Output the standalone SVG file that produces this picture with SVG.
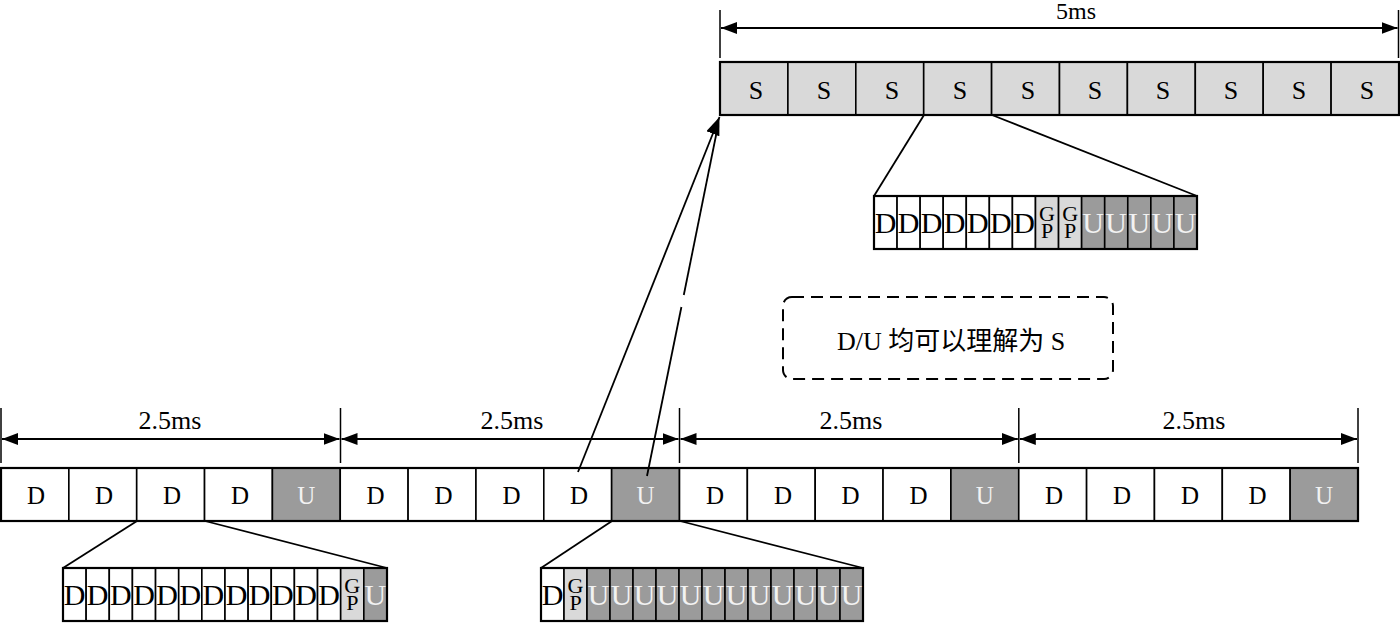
<svg xmlns="http://www.w3.org/2000/svg" width="1400" height="623" viewBox="0 0 1400 623">
<defs>
<style>
.w{fill:#fff;stroke:#000;stroke-width:1.6}
.s{fill:#d9d9d9;stroke:#000;stroke-width:1.6}
.u{fill:#9b9b9b;stroke:#000;stroke-width:1.6}
.frame{fill:none;stroke:#000;stroke-width:2.2}
.t{font-family:"Liberation Serif","Times New Roman",serif;text-anchor:middle;fill:#000}
.big{font-size:25px}
.sbig{font-size:26px}
.sm{font-size:30px}
.gp{font-size:22px}
.wt{fill:#f2f2f2}
.lab{font-size:26px}
.ln{stroke:#000;stroke-width:1.8;fill:none}
.ext{stroke:#000;stroke-width:1.5;fill:none}
</style>
<marker id="ah" viewBox="0 0 16 12" refX="16" refY="6" markerWidth="16" markerHeight="12" markerUnits="userSpaceOnUse" orient="auto-start-reverse">
<path d="M0,0 L16,6 L0,12 z" fill="#000"/>
</marker>
<marker id="bh" viewBox="0 0 18 14" refX="18" refY="7" markerWidth="18" markerHeight="14" markerUnits="userSpaceOnUse" orient="auto">
<path d="M0,0 L18,7 L0,14 z" fill="#000"/>
</marker>
</defs>
<rect width="1400" height="623" fill="#fff"/>

<g id="dim5ms">
<line class="ext" x1="720" y1="10" x2="720" y2="58"/>
<line class="ext" x1="1398.5" y1="10" x2="1398.5" y2="58"/>
<line class="ln" x1="721" y1="28" x2="1397.5" y2="28" marker-start="url(#ah)" marker-end="url(#ah)"/>
<text class="t" x="1076" y="19" font-size="24">5ms</text>
</g>

<g id="frame5ms">
<rect class="s" x="720" y="62" width="67.9" height="53"/>
<rect class="s" x="787.9" y="62" width="67.9" height="53"/>
<rect class="s" x="855.8" y="62" width="67.9" height="53"/>
<rect class="s" x="923.7" y="62" width="67.9" height="53"/>
<rect class="s" x="991.6" y="62" width="67.9" height="53"/>
<rect class="s" x="1059.5" y="62" width="67.9" height="53"/>
<rect class="s" x="1127.4" y="62" width="67.9" height="53"/>
<rect class="s" x="1195.3" y="62" width="67.9" height="53"/>
<rect class="s" x="1263.2" y="62" width="67.9" height="53"/>
<rect class="s" x="1331.1" y="62" width="67.9" height="53"/>
<rect class="frame" x="720" y="62" width="679" height="53"/>
<g class="t sbig">
<text x="756" y="99">S</text><text x="824" y="99">S</text><text x="892" y="99">S</text><text x="960" y="99">S</text><text x="1028" y="99">S</text><text x="1095" y="99">S</text><text x="1163" y="99">S</text><text x="1231" y="99">S</text><text x="1299" y="99">S</text><text x="1367" y="99">S</text>
</g>
</g>

<g id="subframeTop">
<rect class="w" x="874" y="196" width="23.07" height="53"/>
<rect class="w" x="897.07" y="196" width="23.07" height="53"/>
<rect class="w" x="920.14" y="196" width="23.07" height="53"/>
<rect class="w" x="943.21" y="196" width="23.07" height="53"/>
<rect class="w" x="966.28" y="196" width="23.07" height="53"/>
<rect class="w" x="989.35" y="196" width="23.07" height="53"/>
<rect class="w" x="1012.42" y="196" width="23.07" height="53"/>
<rect class="s" x="1035.49" y="196" width="23.07" height="53"/>
<rect class="s" x="1058.56" y="196" width="23.07" height="53"/>
<rect class="u" x="1081.63" y="196" width="23.07" height="53"/>
<rect class="u" x="1104.7" y="196" width="23.07" height="53"/>
<rect class="u" x="1127.77" y="196" width="23.07" height="53"/>
<rect class="u" x="1150.84" y="196" width="23.07" height="53"/>
<rect class="u" x="1173.91" y="196" width="23.09" height="53"/>
<rect class="frame" x="874" y="196" width="323" height="53"/>
<g class="t sm">
<text x="885.5" y="233">D</text><text x="908.6" y="233">D</text><text x="931.7" y="233">D</text><text x="954.7" y="233">D</text><text x="977.8" y="233">D</text><text x="1000.9" y="233">D</text><text x="1024" y="233">D</text>
</g>
<text class="t gp" x="1047" y="221">G<tspan x="1047" y="237.5">P</tspan></text>
<text class="t gp" x="1070.1" y="221">G<tspan x="1070.1" y="237.5">P</tspan></text>
<g class="t sm wt">
<text x="1093.2" y="233">U</text><text x="1116.2" y="233">U</text><text x="1139.3" y="233">U</text><text x="1162.4" y="233">U</text><text x="1185.5" y="233">U</text>
</g>
</g>

<g id="note">
<rect x="783" y="297" width="330" height="82" rx="9" ry="9" fill="none" stroke="#000" stroke-width="2" stroke-dasharray="12 7"/>
<text x="951" y="350" font-family="'Liberation Serif','Noto Sans CJK SC',serif" font-size="26" text-anchor="middle">D/U 均可以理解为 S</text>
</g>

<g id="dim25ms">
<line class="ext" x1="1" y1="408" x2="1" y2="463"/>
<line class="ext" x1="340.5" y1="408" x2="340.5" y2="463"/>
<line class="ext" x1="679.5" y1="408" x2="679.5" y2="463"/>
<line class="ext" x1="1018.8" y1="408" x2="1018.8" y2="463"/>
<line class="ext" x1="1358" y1="408" x2="1358" y2="463"/>
<line class="ln" x1="2" y1="439" x2="339.5" y2="439" marker-start="url(#ah)" marker-end="url(#ah)"/>
<line class="ln" x1="341.5" y1="439" x2="678.5" y2="439" marker-start="url(#ah)" marker-end="url(#ah)"/>
<line class="ln" x1="680.5" y1="439" x2="1017.8" y2="439" marker-start="url(#ah)" marker-end="url(#ah)"/>
<line class="ln" x1="1019.8" y1="439" x2="1357" y2="439" marker-start="url(#ah)" marker-end="url(#ah)"/>
<g class="t lab">
<text x="170" y="429">2.5ms</text><text x="512" y="429">2.5ms</text><text x="851" y="429">2.5ms</text><text x="1194" y="429">2.5ms</text>
</g>
</g>

<g id="frame10ms">
<rect class="w" x="1" y="468" width="67.85" height="53"/>
<rect class="w" x="68.85" y="468" width="67.85" height="53"/>
<rect class="w" x="136.7" y="468" width="67.85" height="53"/>
<rect class="w" x="204.55" y="468" width="67.85" height="53"/>
<rect class="u" x="272.4" y="468" width="67.85" height="53"/>
<rect class="w" x="340.25" y="468" width="67.85" height="53"/>
<rect class="w" x="408.1" y="468" width="67.85" height="53"/>
<rect class="w" x="475.95" y="468" width="67.85" height="53"/>
<rect class="w" x="543.8" y="468" width="67.85" height="53"/>
<rect class="u" x="611.65" y="468" width="67.85" height="53"/>
<rect class="w" x="679.5" y="468" width="67.85" height="53"/>
<rect class="w" x="747.35" y="468" width="67.85" height="53"/>
<rect class="w" x="815.2" y="468" width="67.85" height="53"/>
<rect class="w" x="883.05" y="468" width="67.85" height="53"/>
<rect class="u" x="950.9" y="468" width="67.85" height="53"/>
<rect class="w" x="1018.75" y="468" width="67.85" height="53"/>
<rect class="w" x="1086.6" y="468" width="67.85" height="53"/>
<rect class="w" x="1154.45" y="468" width="67.85" height="53"/>
<rect class="w" x="1222.3" y="468" width="67.85" height="53"/>
<rect class="u" x="1290.15" y="468" width="67.85" height="53"/>
<rect class="frame" x="1" y="468" width="1357" height="53"/>
<g class="t big">
<text x="36" y="504">D</text><text x="104" y="504">D</text><text x="172" y="504">D</text><text x="240" y="504">D</text>
<text x="375.5" y="504">D</text><text x="443.5" y="504">D</text><text x="511.5" y="504">D</text><text x="579" y="504">D</text>
<text x="715" y="504">D</text><text x="783" y="504">D</text><text x="850.5" y="504">D</text><text x="918.5" y="504">D</text>
<text x="1054" y="504">D</text><text x="1122" y="504">D</text><text x="1190" y="504">D</text><text x="1257.5" y="504">D</text>
</g>
<g class="t big wt">
<text x="306.3" y="504">U</text><text x="645.6" y="504">U</text><text x="984.8" y="504">U</text><text x="1324.1" y="504">U</text>
</g>
</g>

<g id="subframeLeft">
<rect class="w" x="63" y="568" width="23.14" height="53"/>
<rect class="w" x="86.14" y="568" width="23.14" height="53"/>
<rect class="w" x="109.28" y="568" width="23.14" height="53"/>
<rect class="w" x="132.42" y="568" width="23.14" height="53"/>
<rect class="w" x="155.56" y="568" width="23.14" height="53"/>
<rect class="w" x="178.7" y="568" width="23.14" height="53"/>
<rect class="w" x="201.84" y="568" width="23.14" height="53"/>
<rect class="w" x="224.98" y="568" width="23.14" height="53"/>
<rect class="w" x="248.12" y="568" width="23.14" height="53"/>
<rect class="w" x="271.26" y="568" width="23.14" height="53"/>
<rect class="w" x="294.4" y="568" width="23.14" height="53"/>
<rect class="w" x="317.54" y="568" width="23.14" height="53"/>
<rect class="s" x="340.68" y="568" width="23.14" height="53"/>
<rect class="u" x="363.82" y="568" width="23.18" height="53"/>
<rect class="frame" x="63" y="568" width="324" height="53"/>
<g class="t sm">
<text x="74.6" y="605">D</text><text x="97.7" y="605">D</text><text x="120.9" y="605">D</text><text x="144" y="605">D</text><text x="167.1" y="605">D</text><text x="190.3" y="605">D</text><text x="213.4" y="605">D</text><text x="236.6" y="605">D</text><text x="259.7" y="605">D</text><text x="282.8" y="605">D</text><text x="306" y="605">D</text><text x="329.1" y="605">D</text>
</g>
<text class="t gp" x="352.3" y="593">G<tspan x="352.3" y="609.5">P</tspan></text>
<g class="t sm wt"><text x="375.4" y="605">U</text></g>
</g>

<g id="subframeMid">
<rect class="w" x="541" y="568" width="23" height="53"/>
<rect class="s" x="564" y="568" width="23" height="53"/>
<rect class="u" x="587" y="568" width="23" height="53"/>
<rect class="u" x="610" y="568" width="23" height="53"/>
<rect class="u" x="633" y="568" width="23" height="53"/>
<rect class="u" x="656" y="568" width="23" height="53"/>
<rect class="u" x="679" y="568" width="23" height="53"/>
<rect class="u" x="702" y="568" width="23" height="53"/>
<rect class="u" x="725" y="568" width="23" height="53"/>
<rect class="u" x="748" y="568" width="23" height="53"/>
<rect class="u" x="771" y="568" width="23" height="53"/>
<rect class="u" x="794" y="568" width="23" height="53"/>
<rect class="u" x="817" y="568" width="23" height="53"/>
<rect class="u" x="840" y="568" width="23" height="53"/>
<rect class="frame" x="541" y="568" width="322" height="53"/>
<g class="t sm"><text x="552.5" y="605">D</text></g>
<text class="t gp" x="575.5" y="593">G<tspan x="575.5" y="609.5">P</tspan></text>
<g class="t sm wt">
<text x="598.5" y="605">U</text><text x="621.5" y="605">U</text><text x="644.5" y="605">U</text><text x="667.5" y="605">U</text><text x="690.5" y="605">U</text><text x="713.5" y="605">U</text><text x="736.5" y="605">U</text><text x="759.5" y="605">U</text><text x="782.5" y="605">U</text><text x="805.5" y="605">U</text><text x="828.5" y="605">U</text><text x="851.5" y="605">U</text>
</g>
</g>

<g id="connectors">
<line class="ln" x1="924" y1="115" x2="874" y2="196"/>
<line class="ln" x1="992" y1="115" x2="1197" y2="196"/>
<line class="ln" x1="137" y1="521" x2="63" y2="568"/>
<line class="ln" x1="205" y1="521" x2="387" y2="568"/>
<line class="ln" x1="612" y1="521" x2="541" y2="568"/>
<line class="ln" x1="680" y1="521" x2="863" y2="568"/>
<line class="ln" x1="578" y1="472" x2="719.5" y2="117" marker-end="url(#bh)"/>
<line class="ln" x1="647" y1="476" x2="681.4" y2="307"/>
<line class="ln" x1="683.8" y1="295" x2="717.5" y2="128"/>
</g>
</svg>
